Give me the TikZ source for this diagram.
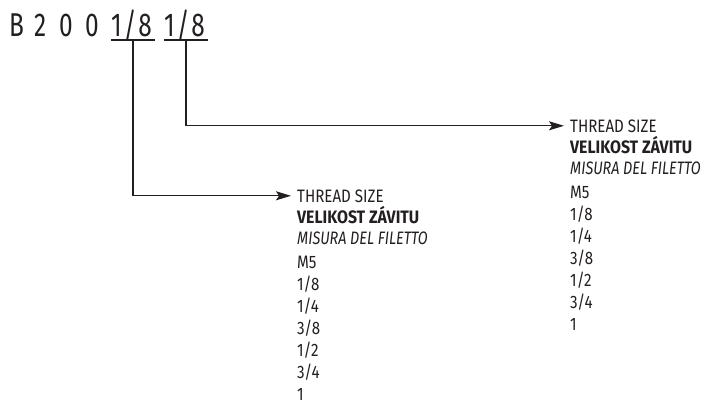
\documentclass[tikz,border=0pt]{standalone}
\usepackage{fontspec}
\setmainfont{Fira Sans}[FakeStretch=0.84,
  BoldFeatures={FakeStretch=0.88},
  ItalicFeatures={FakeStretch=0.80}]
\newfontfamily\titlefont{Fira Sans}[FakeStretch=0.74]
\usetikzlibrary{arrows.meta}
\definecolor{ink}{HTML}{231F20}
\begin{document}
\begin{tikzpicture}[x=1pt,y=-1pt,
  every node/.style={inner sep=0pt, text=ink},
  title/.style={anchor=base west, font=\titlefont\fontsize{33}{33}\selectfont},
  lbl/.style={anchor=base west, font=\fontsize{18}{18}\selectfont},
  uline/.style={draw=ink, line width=1.2pt},
  conn/.style={draw=ink, line width=1.2pt, -{Stealth[length=15pt,width=9pt,inset=3pt]}, shorten >=6pt}]
\useasboundingbox (0,0) rectangle (702,408);
% title
\node[title] (cB) at (9,36.5) {B};
\node[title] (c2) at (34,36.5) {2};
\node[title] (c0a) at (59,36.5) {0};
\node[title] (c0b) at (85,36.5) {0};
\node[title] (f1) at (111,36.5) {1\kern2pt/\kern2pt8};
\node[title] (f2) at (164,36.5) {1\kern2pt/\kern2pt8};
% underlines
\coordinate (u1a) at (111,40); \coordinate (u1b) at (155,40);
\coordinate (u2a) at (164,40); \coordinate (u2b) at (208,40);
\coordinate (v1) at (133,40); \coordinate (v2) at (186,40);
\draw[uline] (u1a) -- (u1b);
\draw[uline] (u2a) -- (u2b);
% block 1
\node[lbl] (a1) at (297,202) {THREAD SIZE};
\node[lbl] (a2) at (297,223) {\bfseries VELIKOST ZÁVITU};
\node[lbl] (a3) at (297,244) {\itshape MISURA DEL FILETTO};
\node[lbl] (a4) at (297,268) {M5};
\node[lbl] (a5) at (297,290) {1/8};
\node[lbl] (a6) at (297,312) {1/4};
\node[lbl] (a7) at (297,334) {3/8};
\node[lbl] (a8) at (297,356) {1/2};
\node[lbl] (a9) at (297,378) {3/4};
\node[lbl] (a10) at (297,400) {1};
% block 2
\node[lbl] (b1) at (570,132) {THREAD SIZE};
\node[lbl] (b2) at (570,153) {\bfseries VELIKOST ZÁVITU};
\node[lbl] (b3) at (570,174) {\itshape MISURA DEL FILETTO};
\node[lbl] (b4) at (570,198) {M5};
\node[lbl] (b5) at (570,220) {1/8};
\node[lbl] (b6) at (570,242) {1/4};
\node[lbl] (b7) at (570,264) {3/8};
\node[lbl] (b8) at (570,286) {1/2};
\node[lbl] (b9) at (570,308) {3/4};
\node[lbl] (b10) at (570,330) {1};
% connectors
\draw[conn] (v1) |- (a1.west);
\draw[conn] (v2) |- (b1.west);
\end{tikzpicture}
\end{document}
